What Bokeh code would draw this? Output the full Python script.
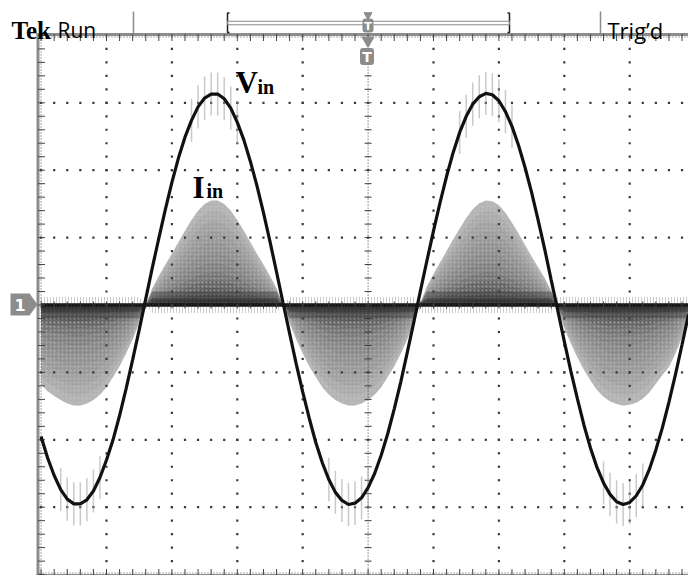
import numpy as np
from bokeh.plotting import figure
from bokeh.core.properties import value
from bokeh.embed import file_html
from bokeh.resources import INLINE

# ---------------- data (read from the screen, in divisions) ----------------
# sample times (horizontal divisions from the left graticule edge)
t_div = np.round(np.arange(0, 100) * 0.1, 2)

# V_in trace (vertical divisions, centre line = 0)
v_in = [-1.95, -2.27, -2.53, -2.74, -2.88, -2.95, -2.95, -2.89, -2.76, -2.56,
        -2.30, -2.00, -1.64, -1.24, -0.81, -0.37, 0.09, 0.55, 0.99, 1.42,
        1.82, 2.18, 2.49, 2.74, 2.94, 3.07, 3.13, 3.13, 3.06, 2.92,
        2.71, 2.45, 2.13, 1.77, 1.37, 0.94, 0.49, 0.03, -0.42, -0.87,
        -1.29, -1.68, -2.04, -2.34, -2.59, -2.78, -2.90, -2.96, -2.94, -2.86,
        -2.71, -2.50, -2.23, -1.91, -1.54, -1.14, -0.70, -0.25, 0.21, 0.66,
        1.10, 1.52, 1.91, 2.26, 2.56, 2.80, 2.98, 3.09, 3.14, 3.12,
        3.03, 2.87, 2.65, 2.37, 2.04, 1.67, 1.26, 0.83, 0.37, -0.08,
        -0.54, -0.98, -1.39, -1.78, -2.12, -2.41, -2.64, -2.81, -2.92, -2.96,
        -2.93, -2.83, -2.67, -2.44, -2.15, -1.82, -1.44, -1.03, -0.59, -0.14]

# I_in envelope of the switching current (vertical divisions)
i_env = [-1.18, -1.28, -1.35, -1.41, -1.46, -1.49, -1.49, -1.46, -1.41, -1.33,
         -1.22, -1.07, -0.91, -0.72, -0.51, -0.27, 0.00,
         0.25, 0.43, 0.60, 0.76, 0.93, 1.10, 1.26, 1.40, 1.50, 1.55,
         1.55, 1.50, 1.40, 1.26, 1.10, 0.93, 0.76, 0.60, 0.43, 0.25,
         0.00,
         -0.27, -0.51, -0.72, -0.91, -1.07, -1.22, -1.33, -1.41, -1.46, -1.49,
         -1.49, -1.46, -1.41, -1.33, -1.22, -1.07, -0.91, -0.72, -0.51, -0.27,
         0.03,
         0.28, 0.46, 0.63, 0.80, 0.97, 1.13, 1.29, 1.42, 1.51, 1.55,
         1.54, 1.48, 1.37, 1.22, 1.06, 0.89, 0.72, 0.56, 0.40, 0.21,
         -0.05,
         -0.35, -0.57, -0.78, -0.96, -1.12, -1.26, -1.36, -1.43, -1.47, -1.49,
         -1.48, -1.45, -1.39, -1.30, -1.17, -1.04, -0.92, -0.72, -0.48, -0.20]

trace_labels = ["V", "I"]
header_left = ["Tek", "Run"]
header_right = "Trig\u2019d"

# ---------------- screen geometry ----------------
X0, SX = 40.6, 65.4     # page x of graticule left edge, px per division
Y0, SY = 304.5, 67.4    # page y of centre line, px per division


def X(px):
    return (px - X0) / SX


def Y(py):
    return (Y0 - py) / SY


p = figure(width=688, height=575, x_range=(X(0), X(688)), y_range=(Y(575), Y(0)),
           output_backend="svg", toolbar_location=None, min_border=0,
           x_axis_location=None, y_axis_location=None)
p.grid.visible = False
p.outline_line_color = None
p.background_fill_color = "white"

t = np.array(t_div)
env = np.array(i_env)
v = np.array(v_in)

# ---------------- I_in (dense switching current) ----------------
# noise hair on the opposite side of the centre line
p.varea(x=t, y1=0, y2=-np.sign(env) * 0.12, fill_color=None,
        hatch_pattern="vertical_line", hatch_color="#cccccc", hatch_scale=3, hatch_weight=1)
shades = [(1.00, "#b4b4b4"), (0.90, "#ababab"), (0.80, "#a2a2a2"), (0.70, "#9a9a9a"),
          (0.60, "#939393"), (0.50, "#8b8b8b"), (0.40, "#828282"), (0.31, "#767676"),
          (0.23, "#686868"), (0.16, "#595959"), (0.10, "#484848"), (0.05, "#333333")]
for f, c in shades:
    p.varea(x=t, y1=0, y2=env * f, fill_color=c)
# speckle texture
p.varea(x=t, y1=0, y2=env, fill_color=None, hatch_pattern="dot",
        hatch_color="#c8c8c8", hatch_scale=4, hatch_weight=1, hatch_alpha=0.6)
for h, c in [(0.2, "#4a4a4a"), (0.1, "#2a2a2a")]:
    p.varea(x=t, y1=0, y2=np.clip(env, -h, h), fill_color=c, fill_alpha=0.5)
p.line(t, np.zeros_like(t), line_width=3.5, color="#151515")

# ---------------- graticule ----------------
dot = "#3a3a3a"
minor = np.round(np.arange(0, 10.01, 0.2), 2)
minor_y = np.round(np.arange(-4, 4.01, 0.2), 2)
gx, gy = [], []
for i in range(1, 11):
    if i == 5:
        continue
    gx += [i] * len(minor_y)
    gy += list(minor_y)
for j in range(-3, 4):
    if j == 0:
        continue
    gx += list(minor)
    gy += [j] * len(minor)
p.scatter(gx, gy, marker="square", size=2.2, color=dot, line_color=None)

# centre cross: dense dotted lines with minor ticks
p.line([5, 5], [-4, 4], line_dash="1 2", line_width=1, color=dot)
p.line([0, 10], [0, 0], line_dash="1 2", line_width=1, color=dot)
p.scatter([5] * len(minor_y), minor_y, marker="dash", size=7, color=dot)
p.scatter(minor, [0] * len(minor), marker="dash", angle=np.pi / 2, size=7, color=dot)

# borders (left, top and bottom rulers)
p.line([X(37.5), X(37.5)], [Y(33), Y(575)], line_width=3, color="#8c8c8c")
p.line([X(36), X(690)], [Y(34), Y(34)], line_width=3, color="#8c8c8c")
p.line([X(36), X(690)], [Y(574.5), Y(574.5)], line_width=2, color="#8c8c8c")
p.line([X(40.5), X(40.5)], [Y(36), Y(575)], line_dash="1 2", line_width=1, color="#555555")
p.line([X(39), X(690)], [Y(36.5), Y(36.5)], line_dash="1 2", line_width=1, color="#555555")
p.line([X(39), X(690)], [Y(572.5), Y(572.5)], line_dash="1 2", line_width=1, color="#555555")
p.scatter([X(41)] * len(minor_y), minor_y, marker="dash", size=7, color="#444444")
p.scatter(minor, [Y(37)] * len(minor), marker="dash", angle=np.pi / 2, size=7, color="#444444")
p.scatter(minor, [Y(572)] * len(minor), marker="dash", angle=np.pi / 2, size=7, color="#444444")

# ---------------- V_in ----------------
peak = np.abs(v) > 2.55
p.segment(t[peak], v[peak] - 0.32, t[peak], v[peak] + 0.32, line_width=1.5, color="#9c9c9c", alpha=0.55)
p.line(t, v, line_width=3.2, color="#111111")

# ---------------- trace labels ----------------
serif = value("Liberation Serif")
p.text([X(235)], [Y(82)], text=[trace_labels[0]], text_font=serif, text_font_style="bold",
       text_font_size="31px", text_baseline="alphabetic", text_align="left", text_color="black")
p.text([X(257)], [Y(86)], text=["in"], text_font=serif, text_font_style="bold",
       text_font_size="20px", text_baseline="alphabetic", text_align="left", text_color="black")
p.text([X(192)], [Y(187)], text=[trace_labels[1]], text_font=serif, text_font_style="bold",
       text_font_size="31px", text_baseline="alphabetic", text_align="left", text_color="black")
p.text([X(206)], [Y(190)], text=["in"], text_font=serif, text_font_style="bold",
       text_font_size="20px", text_baseline="alphabetic", text_align="left", text_color="black")

# ---------------- header ----------------
p.text([X(11)], [Y(30)], text=[header_left[0]], text_font=serif, text_font_style="bold",
       text_font_size="25px", text_baseline="alphabetic", text_align="left", text_color="black")
sans = value("Open Sans")
p.text([X(57)], [Y(29.5)], text=[header_left[1]], text_font=sans,
       text_font_size="21px", text_baseline="alphabetic", text_align="left", text_color="black")
p.text([X(607)], [Y(29.5)], text=[header_right], text_font=sans,
       text_font_size="22px", text_baseline="alphabetic", text_align="left", text_color="black")
# separators
p.segment([X(133), X(600)], [Y(11), Y(11)], [X(133), X(600)], [Y(34), Y(34)],
          line_width=1.5, color="#8c8c8c")
# record bar with brackets
p.line([X(229), X(227), X(227), X(229)], [Y(12.5), Y(12.5), Y(32), Y(32)], line_width=1.5, color="#222222")
p.line([X(507), X(509), X(509), X(507)], [Y(12.5), Y(12.5), Y(32), Y(32)], line_width=1.5, color="#222222")
p.rect([X(368)], [Y(22.5)], width=(509 - 227) / SX, height=3.5 / SY, fill_color=None,
       line_color="#8c8c8c", line_width=1)
# trigger position markers
p.scatter([X(367.5)], [Y(14.5)], marker="inverted_triangle", size=8, color="#8c8c8c")
p.rect([X(367.5)], [Y(25)], width=11 / SX, height=14 / SY, fill_color="#8c8c8c", line_color=None,
       border_radius=3)
p.text([X(367.5)], [Y(25.5)], text=["T"], text_font=value("DejaVu Sans"), text_font_style="bold",
       text_font_size="11px", text_baseline="middle", text_align="center", text_color="white")
p.scatter([X(367.5)], [Y(40)], marker="inverted_triangle", size=12, color="#8c8c8c")
p.rect([X(366.5)], [Y(56)], width=14 / SX, height=17 / SY, fill_color="#8c8c8c", line_color=None,
       border_radius=3)
p.text([X(366.5)], [Y(56.5)], text=["T"], text_font=value("DejaVu Sans"), text_font_style="bold",
       text_font_size="14px", text_baseline="middle", text_align="center", text_color="white")
# channel 1 ground marker
p.patch([X(10), X(29), X(37), X(29), X(10)], [Y(293), Y(293), Y(304), Y(315), Y(315)],
        fill_color="#8c8c8c", line_color=None)
p.text([X(19.5)], [Y(304)], text=["1"], text_font=value("DejaVu Sans"), text_font_style="bold",
       text_font_size="16px", text_baseline="middle", text_align="center", text_color="white")

open("out.html", "w").write(file_html(p, INLINE))
